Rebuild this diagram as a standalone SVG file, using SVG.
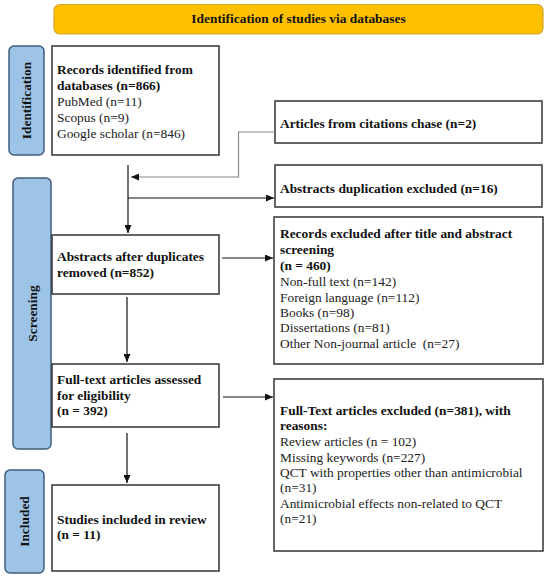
<svg xmlns="http://www.w3.org/2000/svg" width="550" height="579" viewBox="0 0 550 579">
<style>
text{font-family:"Liberation Serif","Times New Roman",serif;font-size:13.4px;fill:#222}
.b{font-weight:bold;fill:#111}
.box{fill:#fff;stroke:#333;stroke-width:1.5}
.lab{fill:#9DC3E6;stroke:#3F5F7F;stroke-width:1.5}
.ln{fill:none;stroke:#111;stroke-width:1.2}
.lg{fill:none;stroke:#888;stroke-width:1.2}
</style>
<defs>
<marker id="ah" markerUnits="userSpaceOnUse" markerWidth="9" markerHeight="7" refX="8" refY="3.5" orient="auto">
<path d="M0,0 L8,3.5 L0,7 z" fill="#111"/>
</marker>
</defs>
<rect width="550" height="579" fill="#fff"/>
<g id="header">
<rect x="54" y="4.5" width="489" height="29.5" rx="6" fill="#FFC000" stroke="#D4A52A" stroke-width="1.2"/>
<text class="b" x="298.5" y="23" text-anchor="middle">Identification of studies via databases</text>
</g>
<g id="label-identification">
<rect class="lab" x="9" y="46" width="35" height="109" rx="5"/>
<text class="b" transform="translate(31,100.5) rotate(-90)" text-anchor="middle">Identification</text>
</g>
<g id="label-screening">
<rect class="lab" x="13" y="178" width="38" height="271" rx="5"/>
<text class="b" transform="translate(36.5,313.5) rotate(-90)" text-anchor="middle">Screening</text>
</g>
<g id="label-included">
<rect class="lab" x="5" y="470" width="39" height="103" rx="5"/>
<text class="b" transform="translate(29,521.5) rotate(-90)" text-anchor="middle">Included</text>
</g>
<g id="records-identified">
<rect class="box" x="52" y="46" width="167" height="109"/>
<text class="b" x="57" y="74">Records identified from</text>
<text class="b" x="57" y="90">databases (n=866)</text>
<text x="57" y="106">PubMed (n=11)</text>
<text x="57" y="122">Scopus (n=9)</text>
<text x="57" y="138">Google scholar (n=846)</text>
</g>
<g id="citations">
<rect class="box" x="275" y="101" width="267" height="42"/>
<text class="b" x="280" y="128">Articles from citations chase (n=2)</text>
</g>
<g id="duplication">
<rect class="box" x="275" y="165" width="267" height="42"/>
<text class="b" x="280" y="193">Abstracts duplication excluded (n=16)</text>
</g>
<g id="abstracts">
<rect class="box" x="52" y="235" width="167" height="59"/>
<text class="b" x="57" y="261">Abstracts after duplicates</text>
<text class="b" x="57" y="277">removed (n=852)</text>
</g>
<g id="records-excluded">
<rect class="box" x="274" y="217" width="269" height="147"/>
<text class="b" x="280" y="238">Records excluded after title and abstract</text>
<text class="b" x="280" y="254">screening</text>
<text class="b" x="280" y="270">(n = 460)</text>
<text x="280" y="286">Non-full text (n=142)</text>
<text x="280" y="302">Foreign language (n=112)</text>
<text x="280" y="317">Books (n=98)</text>
<text x="280" y="332">Dissertations (n=81)</text>
<text x="280" y="348" xml:space="preserve">Other Non-journal article  (n=27)</text>
</g>
<g id="fulltext">
<rect class="box" x="52" y="364" width="167" height="63"/>
<text class="b" x="57" y="384">Full-text articles assessed</text>
<text class="b" x="57" y="400">for eligibility</text>
<text class="b" x="57" y="415">(n = 392)</text>
</g>
<g id="fulltext-excluded">
<rect class="box" x="274" y="379" width="269" height="172"/>
<text class="b" x="280" y="415">Full-Text articles excluded (n=381), with</text>
<text class="b" x="280" y="430">reasons:</text>
<text x="280" y="446">Review articles (n = 102)</text>
<text x="280" y="462">Missing keywords (n=227)</text>
<text x="280" y="477">QCT with properties other than antimicrobial</text>
<text x="280" y="492">(n=31)</text>
<text x="280" y="508">Antimicrobial effects non-related to QCT</text>
<text x="280" y="523">(n=21)</text>
</g>
<g id="included">
<rect class="box" x="52" y="485" width="167" height="86"/>
<text class="b" x="57" y="524">Studies included in review</text>
<text class="b" x="57" y="539">(n = 11)</text>
</g>
<g id="connectors">
<path class="ln" d="M128,165 V233" marker-end="url(#ah)"/>
<path class="lg" d="M275,132 H238.5 V177 H131" marker-end="url(#ah)"/>
<path class="ln" d="M128,198 H274" marker-end="url(#ah)"/>
<path class="ln" d="M222,258 H273" marker-end="url(#ah)"/>
<path class="ln" d="M127,297 V362" marker-end="url(#ah)"/>
<path class="ln" d="M223,397 H273" marker-end="url(#ah)"/>
<path class="ln" d="M127,433 V483" marker-end="url(#ah)"/>
</g>
</svg>
